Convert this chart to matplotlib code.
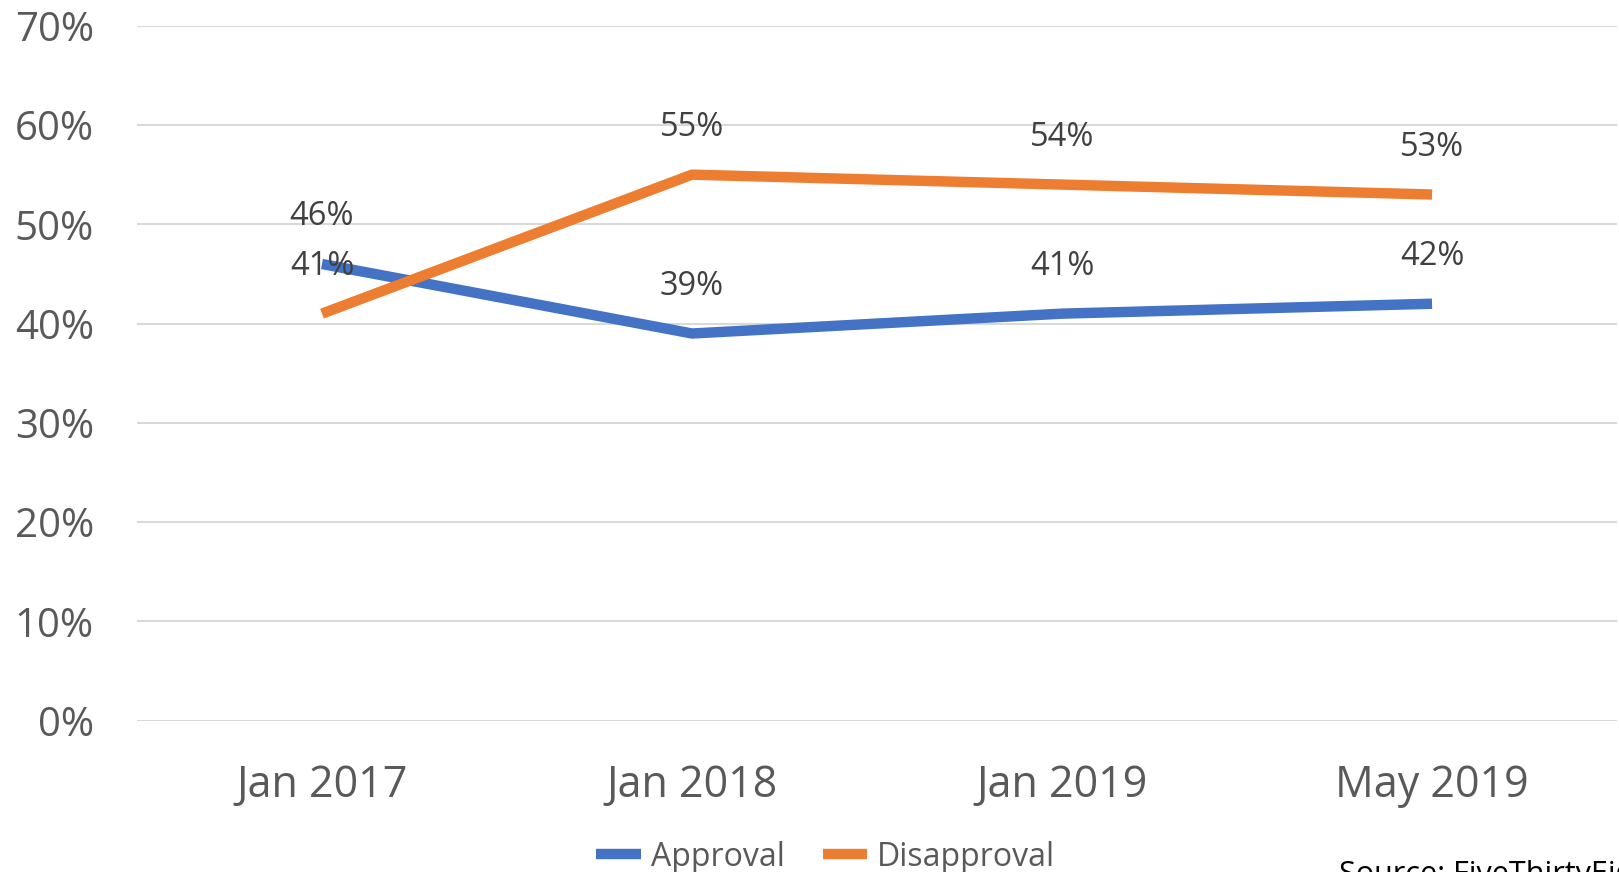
import matplotlib.pyplot as plt
from matplotlib.ticker import PercentFormatter

# Data
periods = ['Jan 2017', 'Jan 2018', 'Jan 2019', 'May 2019']
approval = [46, 39, 41, 42]
disapproval = [41, 55, 54, 53]

blue = '#4472C4'
orange = '#ED7D31'

plt.rcParams['font.family'] = ['Open Sans', 'DejaVu Sans']

fig = plt.figure(figsize=(16.19, 8.72), dpi=100)
ax = fig.add_axes([0.0846, 0.1735, 0.9142, 0.797])

x = range(len(periods))
ax.plot(x, approval, color=blue, lw=7.5, label='Approval', solid_capstyle='butt')
ax.plot(x, disapproval, color=orange, lw=7.5, label='Disapproval', solid_capstyle='butt')

for xi, v in zip(x, approval):
    ax.annotate(f'{v}%', (xi, v), xytext=(0, 34), textcoords='offset points',
                ha='center', va='center', fontsize=23.5, color='#404040')
for xi, v in zip(x, disapproval):
    ax.annotate(f'{v}%', (xi, v), xytext=(0, 34), textcoords='offset points',
                ha='center', va='center', fontsize=23.5, color='#404040')

ax.set_xlim(-0.5, 3.5)
ax.set_ylim(0, 70)
ax.set_yticks(range(0, 71, 10))
ax.yaxis.set_major_formatter(PercentFormatter(decimals=0))
ax.set_xticks(list(x))
ax.set_xticklabels(periods)
ax.tick_params(axis='both', length=0, colors='#595959')
ax.tick_params(axis='x', pad=31, labelsize=31)
ax.tick_params(axis='y', pad=31, labelsize=29)

ax.grid(axis='y', color='#D9D9D9', lw=1.5)
ax.set_axisbelow(True)
for s in ax.spines.values():
    s.set_visible(False)

fig.legend(loc='center', bbox_to_anchor=(0.51, 0.017), ncol=2, frameon=False,
           fontsize=23, labelcolor='#595959', handlelength=1.4, handletextpad=0.3,
           columnspacing=1.2)

# source note runs off the bottom-right edge, as in the original screenshot
fig.text(0.827, 0.014, 'Source: FiveThirtyEight', fontsize=22, color='black',
         ha='left', va='top')

fig.savefig('out.png', dpi=100)
